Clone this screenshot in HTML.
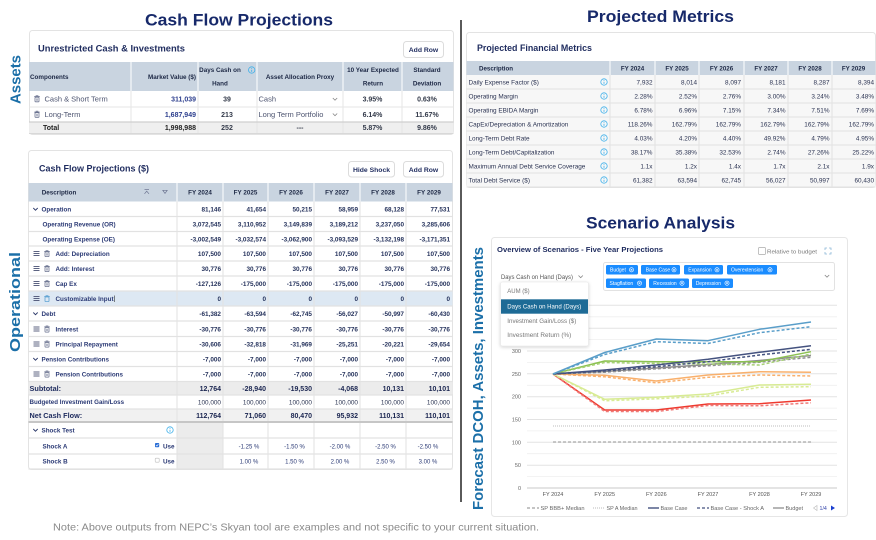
<!DOCTYPE html>
<html><head><meta charset="utf-8">
<style>
html,body{margin:0;padding:0;background:#fff;}
svg{display:block;font-family:"Liberation Sans",Arial,sans-serif;}
</style></head><body>
<svg width="876" height="540" viewBox="0 0 876 540" xmlns="http://www.w3.org/2000/svg">
<defs>
  <g id="tr"><rect x="-2" y="-1.8" width="4" height="4.6" rx="0.6" fill="none" stroke="#6b7390" stroke-width="0.8"/><line x1="-2.8" y1="-2.4" x2="2.8" y2="-2.4" stroke="#6b7390" stroke-width="0.8"/><rect x="-1" y="-3.4" width="2" height="1" fill="none" stroke="#6b7390" stroke-width="0.6"/><line x1="-0.7" y1="-0.6" x2="-0.7" y2="1.8" stroke="#6b7390" stroke-width="0.5"/><line x1="0.7" y1="-0.6" x2="0.7" y2="1.8" stroke="#6b7390" stroke-width="0.5"/></g>
  <g id="trb"><rect x="-2" y="-1.8" width="4" height="4.6" rx="0.6" fill="none" stroke="#5fa3d3" stroke-width="0.8"/><line x1="-2.8" y1="-2.4" x2="2.8" y2="-2.4" stroke="#5fa3d3" stroke-width="0.8"/><rect x="-1" y="-3.4" width="2" height="1" fill="none" stroke="#5fa3d3" stroke-width="0.6"/></g>
  <g id="hb" stroke="#4a5274" stroke-width="0.9"><line x1="-3" y1="-2" x2="3" y2="-2"/><line x1="-3" y1="0" x2="3" y2="0"/><line x1="-3" y1="2" x2="3" y2="2"/></g>
  <g id="inf"><circle r="3.2" fill="none" stroke="#3fb0ea" stroke-width="0.8"/><line x1="0" y1="-0.2" x2="0" y2="1.9" stroke="#3fb0ea" stroke-width="0.8"/><circle cy="-1.4" r="0.45" fill="#3fb0ea"/></g>
  <polyline id="chv" points="-2.2,-1 0,1.2 2.2,-1" fill="none" stroke="#2a3768" stroke-width="0.9"/>
  <polyline id="chg" points="-2.2,-1 0,1.2 2.2,-1" fill="none" stroke="#888" stroke-width="0.8"/>
  <g id="tx"><circle r="2.1" fill="none" stroke="#fff" stroke-width="0.6"/><line x1="-0.9" y1="-0.9" x2="0.9" y2="0.9" stroke="#fff" stroke-width="0.6"/><line x1="-0.9" y1="0.9" x2="0.9" y2="-0.9" stroke="#fff" stroke-width="0.6"/></g>
  <filter id="sh" x="-20%" y="-20%" width="140%" height="150%"><feDropShadow dx="0" dy="1" stdDeviation="1.5" flood-color="#000" flood-opacity="0.18"/></filter>
</defs>

<!-- Big titles -->
<g font-weight="bold" fill="#17296a" font-size="16.5">
  <text x="145" y="25.5" textLength="188" lengthAdjust="spacingAndGlyphs">Cash Flow Projections</text>
  <text x="587" y="21.8" textLength="147" lengthAdjust="spacingAndGlyphs">Projected Metrics</text>
  <text x="586" y="228.5" textLength="149" lengthAdjust="spacingAndGlyphs">Scenario Analysis</text>
</g>
<!-- Vertical labels -->
<g font-weight="bold" fill="#1b6fa8" font-size="15">
  <text transform="translate(20.7,104) rotate(-90)" textLength="49" lengthAdjust="spacingAndGlyphs">Assets</text>
  <text transform="translate(19.8,352) rotate(-90)" textLength="100" lengthAdjust="spacingAndGlyphs">Operational</text>
  <text transform="translate(483,510) rotate(-90)" textLength="263" lengthAdjust="spacingAndGlyphs">Forecast DCOH, Assets, Investments</text>
</g>
<!-- divider -->
<line x1="461" y1="20" x2="461" y2="502" stroke="#5a5a5a" stroke-width="2"/>

<!-- ============ CARD 1: Unrestricted Cash ============ -->
<rect x="29.5" y="30.5" width="424" height="104" rx="3" fill="#fff" stroke="#e3e3e3"/>
<text x="38" y="51.5" font-size="9.2" font-weight="bold" fill="#1e2b5e" textLength="147" lengthAdjust="spacingAndGlyphs">Unrestricted Cash &amp; Investments</text>
<rect x="403.5" y="41.5" width="40" height="16" rx="3" fill="#fff" stroke="#dcdcdc"/>
<text x="423.5" y="52" text-anchor="middle" font-size="6.8" font-weight="bold" fill="#1e2b5e">Add Row</text>
<rect x="29" y="62" width="424.5" height="29" fill="#c9d4e0"/>
<g stroke="#fff" stroke-width="1"><line x1="131" y1="62" x2="131" y2="91"/><line x1="198" y1="62" x2="198" y2="91"/><line x1="257" y1="62" x2="257" y2="91"/><line x1="343" y1="62" x2="343" y2="91"/><line x1="402" y1="62" x2="402" y2="91"/></g>
<g font-size="6.3" font-weight="bold" fill="#1c2744">
  <text x="30" y="79">Components</text>
  <text x="196" y="79" text-anchor="end">Market Value ($)</text>
  <text x="220" y="72.2" text-anchor="middle">Days Cash on</text>
  <text x="220" y="85.5" text-anchor="middle">Hand</text>
  <text x="300" y="79" text-anchor="middle">Asset Allocation Proxy</text>
  <text x="373" y="72.2" text-anchor="middle">10 Year Expected</text>
  <text x="373" y="85.5" text-anchor="middle">Return</text>
  <text x="427" y="72.2" text-anchor="middle">Standard</text>
  <text x="427" y="85.5" text-anchor="middle">Deviation</text>
</g>
<use href="#inf" x="251.7" y="70"/>
<rect x="29" y="122" width="424.5" height="11.5" fill="#efefef"/>
<g stroke="#e6e6e6" stroke-width="1"><line x1="29" y1="107" x2="453.5" y2="107"/><line x1="131" y1="91" x2="131" y2="134"/><line x1="198" y1="91" x2="198" y2="134"/><line x1="257" y1="91" x2="257" y2="134"/><line x1="343" y1="91" x2="343" y2="134"/><line x1="402" y1="91" x2="402" y2="134"/></g>
<line x1="29" y1="122" x2="453.5" y2="122" stroke="#cfcfcf" stroke-width="1.2"/>
<line x1="29" y1="133.5" x2="453.5" y2="133.5" stroke="#d8d8d8" stroke-width="1"/>
<use href="#tr" x="37" y="99"/><use href="#tr" x="37" y="114.5"/>
<g font-size="7.5" fill="#4d5470">
  <text x="44.5" y="101.7">Cash &amp; Short Term</text>
  <text x="44.5" y="117.2">Long-Term</text>
  <text x="258.5" y="101.7">Cash</text>
  <text x="258.5" y="117.2">Long Term Portfolio</text>
</g>
<use href="#chg" x="335" y="99"/><use href="#chg" x="335" y="114.5"/>
<g font-size="7" font-weight="bold" fill="#2d3f8e" text-anchor="end">
  <text x="196" y="101.5">311,039</text>
  <text x="196" y="117">1,687,949</text>
</g>
<g font-size="7" font-weight="bold" fill="#333a4a" text-anchor="middle">
  <text x="227" y="101.5">39</text><text x="372.5" y="101.5">3.95%</text><text x="427" y="101.5">0.63%</text>
  <text x="227" y="117">213</text><text x="372.5" y="117">6.14%</text><text x="427" y="117">11.67%</text>
  <text x="227" y="130.2">252</text><text x="300" y="130.2">---</text><text x="372.5" y="130.2">5.87%</text><text x="427" y="130.2">9.86%</text>
</g>
<text x="43" y="130.2" font-size="7" font-weight="bold" fill="#222">Total</text>
<text x="196" y="130.2" text-anchor="end" font-size="7" font-weight="bold" fill="#222">1,998,988</text>

<!-- ============ CARD 2: Cash Flow Projections ============ -->
<rect x="28.5" y="150.5" width="424" height="319" rx="3" fill="#fff" stroke="#e3e3e3"/>
<text x="39" y="171.3" font-size="9" font-weight="bold" fill="#1e2b5e" textLength="110" lengthAdjust="spacingAndGlyphs">Cash Flow Projections ($)</text>
<rect x="348.5" y="161.5" width="46" height="15.5" rx="3" fill="#fff" stroke="#dcdcdc"/>
<text x="371.5" y="171.8" text-anchor="middle" font-size="6.8" font-weight="bold" fill="#1e2b5e">Hide Shock</text>
<rect x="403.5" y="161.5" width="40" height="15.5" rx="3" fill="#fff" stroke="#dcdcdc"/>
<text x="423.5" y="171.8" text-anchor="middle" font-size="6.8" font-weight="bold" fill="#1e2b5e">Add Row</text>

<rect x="28.5" y="183" width="424" height="18.5" fill="#c9d4e0"/>
<g stroke="#fff"><line x1="177" y1="183" x2="177" y2="201.5"/><line x1="223" y1="183" x2="223" y2="201.5"/><line x1="268" y1="183" x2="268" y2="201.5"/><line x1="314" y1="183" x2="314" y2="201.5"/><line x1="360" y1="183" x2="360" y2="201.5"/><line x1="406" y1="183" x2="406" y2="201.5"/></g>
<g font-size="6.3" font-weight="bold" fill="#1c2744">
  <text x="41.7" y="194.3">Description</text>
  <g text-anchor="middle"><text x="200" y="194.3">FY 2024</text><text x="245.5" y="194.3">FY 2025</text><text x="291" y="194.3">FY 2026</text><text x="337" y="194.3">FY 2027</text><text x="383" y="194.3">FY 2028</text><text x="429" y="194.3">FY 2029</text></g>
</g>
<g stroke="#6b7390" stroke-width="0.7" fill="none"><line x1="144.5" y1="189.6" x2="149" y2="189.6"/><polyline points="144.5,193.8 146.7,191.2 149,193.8"/><polygon points="162.8,190.3 167.2,190.3 165,193.4"/></g>

<!-- row backgrounds -->
<rect x="28.5" y="291" width="424" height="15" fill="#dde8f3"/>
<rect x="28.5" y="381.5" width="424" height="13.5" fill="#ececec"/>
<rect x="28.5" y="409" width="424" height="13" fill="#f1f1f1"/>
<rect x="177" y="422.5" width="46" height="46.5" fill="#ececec"/>
<g stroke="#e2e2e2" stroke-width="1.2">
  <line x1="28.5" y1="216.5" x2="452.5" y2="216.5"/><line x1="28.5" y1="231.5" x2="452.5" y2="231.5"/><line x1="28.5" y1="246" x2="452.5" y2="246"/><line x1="28.5" y1="261" x2="452.5" y2="261"/><line x1="28.5" y1="276" x2="452.5" y2="276"/><line x1="28.5" y1="291" x2="452.5" y2="291"/><line x1="28.5" y1="306" x2="452.5" y2="306"/><line x1="28.5" y1="321" x2="452.5" y2="321"/><line x1="28.5" y1="336.5" x2="452.5" y2="336.5"/><line x1="28.5" y1="351.5" x2="452.5" y2="351.5"/><line x1="28.5" y1="366.5" x2="452.5" y2="366.5"/><line x1="28.5" y1="381.5" x2="452.5" y2="381.5"/><line x1="28.5" y1="395" x2="452.5" y2="395"/><line x1="28.5" y1="409" x2="452.5" y2="409"/><line x1="28.5" y1="438" x2="452.5" y2="438"/><line x1="28.5" y1="454" x2="452.5" y2="454"/><line x1="28.5" y1="469" x2="452.5" y2="469"/>
</g>
<g stroke="#e2e2e2" stroke-width="1"><line x1="177" y1="201.5" x2="177" y2="469"/><line x1="223" y1="201.5" x2="223" y2="469"/><line x1="268" y1="201.5" x2="268" y2="469"/><line x1="314" y1="201.5" x2="314" y2="469"/><line x1="360" y1="201.5" x2="360" y2="469"/><line x1="406" y1="201.5" x2="406" y2="469"/></g>
<line x1="28.5" y1="422" x2="452.5" y2="422" stroke="#c6c6c6" stroke-width="2"/>

<!-- icons -->
<use href="#chv" x="35.5" y="209"/><use href="#chv" x="35.5" y="313.5"/><use href="#chv" x="35.5" y="359"/><use href="#chv" x="35.5" y="430"/>
<use href="#hb" x="36.5" y="253.5"/><use href="#tr" x="47" y="253.8"/>
<use href="#hb" x="36.5" y="268.5"/><use href="#tr" x="47" y="268.8"/>
<use href="#hb" x="36.5" y="283.5"/><use href="#tr" x="47" y="283.8"/>
<use href="#hb" x="36.5" y="298.5"/><use href="#trb" x="47" y="298.8"/>
<use href="#hb" x="36.5" y="329"/><use href="#tr" x="47" y="329.3"/>
<use href="#hb" x="36.5" y="344"/><use href="#tr" x="47" y="344.3"/>
<use href="#hb" x="36.5" y="374"/><use href="#tr" x="47" y="374.3"/>
<use href="#inf" x="170" y="430"/>
<rect x="155" y="443" width="4.2" height="4.2" rx="0.8" fill="#2b6fd6"/><polyline points="155.9,445.1 156.9,446 158.3,444.2" fill="none" stroke="#fff" stroke-width="0.6"/>
<rect x="155.2" y="458.2" width="4" height="4" rx="0.8" fill="#fff" stroke="#bbb" stroke-width="0.6"/>
<line x1="114.5" y1="295.5" x2="114.5" y2="302" stroke="#333" stroke-width="0.6"/>

<!-- labels -->
<g font-size="6.3" font-weight="bold" fill="#2b3a75">
  <text x="41.5" y="211.3">Operation</text>
  <text x="42.5" y="226.3">Operating Revenue (OR)</text>
  <text x="42.5" y="241.3">Operating Expense (OE)</text>
  <text x="55.5" y="255.8">Add: Depreciation</text>
  <text x="55.5" y="270.8">Add: Interest</text>
  <text x="55.5" y="285.8">Cap Ex</text>
  <text x="55.5" y="300.8">Customizable Input</text>
  <text x="41.5" y="315.8">Debt</text>
  <text x="55.5" y="331.3">Interest</text>
  <text x="55.5" y="346.3">Principal Repayment</text>
  <text x="41.5" y="361.3">Pension Contributions</text>
  <text x="55.5" y="376.3">Pension Contributions</text>
  <text x="29.5" y="404.2" font-size="6.2">Budgeted Investment Gain/Loss</text>
  <text x="41.5" y="432.3">Shock Test</text>
  <text x="42.5" y="448.3">Shock A</text>
  <text x="42.5" y="463.3">Shock B</text>
  <text x="163" y="448.3">Use</text>
  <text x="163" y="463.3">Use</text>
</g>
<g font-size="7.3" font-weight="bold" fill="#1e2b5e">
  <text x="29.5" y="390.9">Subtotal:</text>
  <text x="29.5" y="418.1">Net Cash Flow:</text>
</g>

<!-- values -->
<g font-size="6.4" font-weight="bold" fill="#25325c" text-anchor="end">
  <text x="221" y="211.3">81,146</text><text x="266" y="211.3">41,654</text><text x="312" y="211.3">50,215</text><text x="358" y="211.3">58,959</text><text x="404" y="211.3">68,128</text><text x="450" y="211.3">77,531</text>
  <text x="221" y="226.3">3,072,545</text><text x="266" y="226.3">3,110,952</text><text x="312" y="226.3">3,149,839</text><text x="358" y="226.3">3,189,212</text><text x="404" y="226.3">3,237,050</text><text x="450" y="226.3">3,285,606</text>
  <text x="221" y="241.3">-3,002,549</text><text x="266" y="241.3">-3,032,574</text><text x="312" y="241.3">-3,062,900</text><text x="358" y="241.3">-3,093,529</text><text x="404" y="241.3">-3,132,198</text><text x="450" y="241.3">-3,171,351</text>
  <text x="221" y="255.8">107,500</text><text x="266" y="255.8">107,500</text><text x="312" y="255.8">107,500</text><text x="358" y="255.8">107,500</text><text x="404" y="255.8">107,500</text><text x="450" y="255.8">107,500</text>
  <text x="221" y="270.8">30,776</text><text x="266" y="270.8">30,776</text><text x="312" y="270.8">30,776</text><text x="358" y="270.8">30,776</text><text x="404" y="270.8">30,776</text><text x="450" y="270.8">30,776</text>
  <text x="221" y="285.8">-127,126</text><text x="266" y="285.8">-175,000</text><text x="312" y="285.8">-175,000</text><text x="358" y="285.8">-175,000</text><text x="404" y="285.8">-175,000</text><text x="450" y="285.8">-175,000</text>
  <text x="221" y="300.8">0</text><text x="266" y="300.8">0</text><text x="312" y="300.8">0</text><text x="358" y="300.8">0</text><text x="404" y="300.8">0</text><text x="450" y="300.8">0</text>
  <text x="221" y="315.8">-61,382</text><text x="266" y="315.8">-63,594</text><text x="312" y="315.8">-62,745</text><text x="358" y="315.8">-56,027</text><text x="404" y="315.8">-50,997</text><text x="450" y="315.8">-60,430</text>
  <text x="221" y="331.3">-30,776</text><text x="266" y="331.3">-30,776</text><text x="312" y="331.3">-30,776</text><text x="358" y="331.3">-30,776</text><text x="404" y="331.3">-30,776</text><text x="450" y="331.3">-30,776</text>
  <text x="221" y="346.3">-30,606</text><text x="266" y="346.3">-32,818</text><text x="312" y="346.3">-31,969</text><text x="358" y="346.3">-25,251</text><text x="404" y="346.3">-20,221</text><text x="450" y="346.3">-29,654</text>
  <text x="221" y="361.3">-7,000</text><text x="266" y="361.3">-7,000</text><text x="312" y="361.3">-7,000</text><text x="358" y="361.3">-7,000</text><text x="404" y="361.3">-7,000</text><text x="450" y="361.3">-7,000</text>
  <text x="221" y="376.3">-7,000</text><text x="266" y="376.3">-7,000</text><text x="312" y="376.3">-7,000</text><text x="358" y="376.3">-7,000</text><text x="404" y="376.3">-7,000</text><text x="450" y="376.3">-7,000</text>
</g>
<g font-size="7" font-weight="bold" fill="#1a2550" text-anchor="end">
  <text x="221" y="390.8">12,764</text><text x="266" y="390.8">-28,940</text><text x="312" y="390.8">-19,530</text><text x="358" y="390.8">-4,068</text><text x="404" y="390.8">10,131</text><text x="450" y="390.8">10,101</text>
  <text x="221" y="418">112,764</text><text x="266" y="418">71,060</text><text x="312" y="418">80,470</text><text x="358" y="418">95,932</text><text x="404" y="418">110,131</text><text x="450" y="418">110,101</text>
</g>
<g font-size="6.4" fill="#2b3452" text-anchor="end">
  <text x="221" y="404.3">100,000</text><text x="266" y="404.3">100,000</text><text x="312" y="404.3">100,000</text><text x="358" y="404.3">100,000</text><text x="404" y="404.3">100,000</text><text x="450" y="404.3">100,000</text>
</g>
<g font-size="6" fill="#2b3a75" text-anchor="middle">
  <text x="249" y="448.3">-1.25 %</text><text x="294.5" y="448.3">-1.50 %</text><text x="340" y="448.3">-2.00 %</text><text x="385.5" y="448.3">-2.50 %</text><text x="428" y="448.3">-2.50 %</text>
  <text x="249" y="463.3">1.00 %</text><text x="294.5" y="463.3">1.50 %</text><text x="340" y="463.3">2.00 %</text><text x="385.5" y="463.3">2.50 %</text><text x="428" y="463.3">3.00 %</text>
</g>

<!-- note -->
<text x="53" y="530.5" font-size="10.5" fill="#8a8a8a" textLength="486" lengthAdjust="spacingAndGlyphs">Note: Above outputs from NEPC’s Skyan tool are examples and not specific to your current situation.</text>

<!-- ============ PROJECTED FINANCIAL METRICS ============ -->
<rect x="466.5" y="32.5" width="409" height="155" rx="3" fill="#fff" stroke="#e3e3e3"/>
<text x="477" y="50.8" font-size="8.9" font-weight="bold" fill="#1e2b5e" textLength="115" lengthAdjust="spacingAndGlyphs">Projected Financial Metrics</text>
<rect x="466.5" y="61" width="409" height="14" fill="#c9d4e0"/>
<rect x="466.5" y="75" width="409" height="112" fill="#f7f7f7"/>
<g stroke="#fff"><line x1="610" y1="61" x2="610" y2="75"/><line x1="655" y1="61" x2="655" y2="75"/><line x1="699" y1="61" x2="699" y2="75"/><line x1="744" y1="61" x2="744" y2="75"/><line x1="788" y1="61" x2="788" y2="75"/><line x1="832" y1="61" x2="832" y2="75"/></g>
<g stroke="#e2e2e2"><line x1="466.5" y1="89" x2="875.5" y2="89"/><line x1="466.5" y1="103" x2="875.5" y2="103"/><line x1="466.5" y1="117" x2="875.5" y2="117"/><line x1="466.5" y1="131" x2="875.5" y2="131"/><line x1="466.5" y1="145" x2="875.5" y2="145"/><line x1="466.5" y1="159" x2="875.5" y2="159"/><line x1="466.5" y1="173" x2="875.5" y2="173"/><line x1="466.5" y1="187" x2="875.5" y2="187"/>
<line x1="610" y1="75" x2="610" y2="187"/><line x1="655" y1="75" x2="655" y2="187"/><line x1="699" y1="75" x2="699" y2="187"/><line x1="744" y1="75" x2="744" y2="187"/><line x1="788" y1="75" x2="788" y2="187"/><line x1="832" y1="75" x2="832" y2="187"/></g>
<g font-size="6.2" font-weight="bold" fill="#1c2744">
  <text x="479" y="70.3">Description</text>
  <g text-anchor="middle"><text x="632.5" y="70.3">FY 2024</text><text x="677" y="70.3">FY 2025</text><text x="721.5" y="70.3">FY 2026</text><text x="766" y="70.3">FY 2027</text><text x="810" y="70.3">FY 2028</text><text x="853.5" y="70.3">FY 2029</text></g>
</g>
<use href="#inf" x="604" y="82"/><use href="#inf" x="604" y="96"/><use href="#inf" x="604" y="110"/><use href="#inf" x="604" y="124"/><use href="#inf" x="604" y="138"/><use href="#inf" x="604" y="152"/><use href="#inf" x="604" y="166"/><use href="#inf" x="604" y="180"/>
<g font-size="6.4" fill="#2b3352">
  <text x="468.5" y="84.3">Daily Expense Factor ($)</text>
  <text x="468.5" y="98.3">Operating Margin</text>
  <text x="468.5" y="112.3">Operating EBIDA Margin</text>
  <text x="468.5" y="126.3">CapEx/Depreciation &amp; Amortization</text>
  <text x="468.5" y="140.3">Long-Term Debt Rate</text>
  <text x="468.5" y="154.3">Long-Term Debt/Capitalization</text>
  <text x="468.5" y="168.3">Maximum Annual Debt Service Coverage</text>
  <text x="468.5" y="182.3">Total Debt Service ($)</text>
  <g text-anchor="end">
  <text x="652.5" y="84.3">7,932</text><text x="697" y="84.3">8,014</text><text x="741" y="84.3">8,097</text><text x="785.5" y="84.3">8,181</text><text x="829.5" y="84.3">8,287</text><text x="874" y="84.3">8,394</text>
  <text x="652.5" y="98.3">2.28%</text><text x="697" y="98.3">2.52%</text><text x="741" y="98.3">2.76%</text><text x="785.5" y="98.3">3.00%</text><text x="829.5" y="98.3">3.24%</text><text x="874" y="98.3">3.48%</text>
  <text x="652.5" y="112.3">6.78%</text><text x="697" y="112.3">6.96%</text><text x="741" y="112.3">7.15%</text><text x="785.5" y="112.3">7.34%</text><text x="829.5" y="112.3">7.51%</text><text x="874" y="112.3">7.69%</text>
  <text x="652.5" y="126.3">118.26%</text><text x="697" y="126.3">162.79%</text><text x="741" y="126.3">162.79%</text><text x="785.5" y="126.3">162.79%</text><text x="829.5" y="126.3">162.79%</text><text x="874" y="126.3">162.79%</text>
  <text x="652.5" y="140.3">4.03%</text><text x="697" y="140.3">4.20%</text><text x="741" y="140.3">4.40%</text><text x="785.5" y="140.3">49.92%</text><text x="829.5" y="140.3">4.79%</text><text x="874" y="140.3">4.95%</text>
  <text x="652.5" y="154.3">38.17%</text><text x="697" y="154.3">35.38%</text><text x="741" y="154.3">32.53%</text><text x="785.5" y="154.3">2.74%</text><text x="829.5" y="154.3">27.26%</text><text x="874" y="154.3">25.22%</text>
  <text x="652.5" y="168.3">1.1x</text><text x="697" y="168.3">1.2x</text><text x="741" y="168.3">1.4x</text><text x="785.5" y="168.3">1.7x</text><text x="829.5" y="168.3">2.1x</text><text x="874" y="168.3">1.9x</text>
  <text x="652.5" y="182.3">61,382</text><text x="697" y="182.3">63,594</text><text x="741" y="182.3">62,745</text><text x="785.5" y="182.3">56,027</text><text x="829.5" y="182.3">50,997</text><text x="874" y="182.3">60,430</text>
  </g>
</g>

<!-- ============ SCENARIO CHART CARD ============ -->
<rect x="491.5" y="237.5" width="356" height="279" rx="3" fill="#fff" stroke="#e6e6e6"/>
<text x="497" y="251.8" font-size="7.6" font-weight="bold" fill="#1e2b5e" textLength="166" lengthAdjust="spacingAndGlyphs">Overview of Scenarios - Five Year Projections</text>
<rect x="758.5" y="247.5" width="7" height="7" rx="1" fill="#fff" stroke="#aaa" stroke-width="0.7"/>
<text x="767" y="253.5" font-size="5.8" fill="#777" textLength="50" lengthAdjust="spacingAndGlyphs">Relative to budget</text>
<g stroke="#8cb8d8" stroke-width="0.8" fill="none"><polyline points="825,250 825,248 827,248"/><polyline points="829,248 831,248 831,250"/><polyline points="831,252 831,254 829,254"/><polyline points="827,254 825,254 825,252"/></g>

<!-- gridlines -->
<g stroke="#efefef" stroke-width="0.8">
  <line x1="527" y1="476.6" x2="837" y2="476.6"/><line x1="527" y1="453.7" x2="837" y2="453.7"/><line x1="527" y1="430.9" x2="837" y2="430.9"/><line x1="527" y1="408.1" x2="837" y2="408.1"/><line x1="527" y1="385.3" x2="837" y2="385.3"/><line x1="527" y1="362.4" x2="837" y2="362.4"/><line x1="527" y1="339.6" x2="837" y2="339.6"/><line x1="527" y1="316.8" x2="837" y2="316.8"/>
</g>
<g stroke="#e3e3e3" stroke-width="1">
  <line x1="527" y1="465.2" x2="837" y2="465.2"/><line x1="527" y1="442.3" x2="837" y2="442.3"/><line x1="527" y1="419.5" x2="837" y2="419.5"/><line x1="527" y1="396.7" x2="837" y2="396.7"/><line x1="527" y1="373.8" x2="837" y2="373.8"/><line x1="527" y1="351" x2="837" y2="351"/><line x1="527" y1="328.2" x2="837" y2="328.2"/><line x1="527" y1="305.3" x2="837" y2="305.3"/>
</g>
<line x1="527" y1="488" x2="837" y2="488" stroke="#c8c8c8" stroke-width="1"/>
<g font-size="5.5" fill="#666" text-anchor="end">
  <text x="521" y="490">0</text><text x="521" y="467.2">50</text><text x="521" y="444.3">100</text><text x="521" y="421.5">150</text><text x="521" y="398.7">200</text><text x="521" y="375.8">250</text><text x="521" y="353">300</text><text x="521" y="330.2">350</text><text x="521" y="307.3">400</text>
</g>
<g font-size="5.5" fill="#555" text-anchor="middle">
  <text x="553" y="496">FY 2024</text><text x="604.7" y="496">FY 2025</text><text x="656.3" y="496">FY 2026</text><text x="708" y="496">FY 2027</text><text x="759.5" y="496">FY 2028</text><text x="811" y="496">FY 2029</text>
</g>

<!-- series -->
<line x1="553" y1="442" x2="811" y2="442" stroke="#a8a8a8" stroke-width="1.2" stroke-dasharray="3,2"/>
<line x1="553" y1="426" x2="811" y2="426" stroke="#bdbdbd" stroke-width="1" stroke-dasharray="1,1"/>
<g fill="none" stroke-width="1.5" stroke-linejoin="round">
  <polyline points="553,374 604.7,410 656.3,410 708,404 759.5,403.7 811,400" stroke="#ee3a2f"/>
  <polyline points="553,374 604.7,411.5 656.3,411.5 708,405.5 759.5,405.8 811,402.8" stroke="#f07a78" stroke-dasharray="3,2"/>
  <polyline points="553,374 604.7,399.3 656.3,397.3 708,394 759.5,385 811,384.3" stroke="#d8eb94"/>
  <polyline points="553,374 604.7,400.8 656.3,398.8 708,396 759.5,387.3 811,386.7" stroke="#d8eb94" stroke-dasharray="3,2"/>
  <polyline points="553,374 604.7,375.3 656.3,381 708,375 759.5,371.7 811,372.3" stroke="#f9b06c"/>
  <polyline points="553,374 604.7,376.8 656.3,382.8 708,377.3 759.5,375 811,376" stroke="#f9b06c" stroke-dasharray="3,2"/>
  <polyline points="553,374 604.7,371.5 656.3,368 708,364.5 759.5,360.5 811,355.5" stroke="#8e8e8e"/>
  <polyline points="553,374 604.7,372.2 656.3,368.8 708,365.8 759.5,362.2 811,357.3" stroke="#8e8e8e" stroke-dasharray="3,2"/>
  <polyline points="553,374 604.7,361 656.3,361.7 708,361.7 759.5,361.7 811,351.7" stroke="#8cc152"/>
  <polyline points="553,374 604.7,362.5 656.3,363.5 708,364 759.5,365 811,354" stroke="#a6d174" stroke-dasharray="3,2"/>
  <polyline points="553,374 604.7,370 656.3,365 708,359.3 759.5,352.3 811,345.7" stroke="#44527f"/>
  <polyline points="553,374 604.7,371 656.3,366.7 708,361.7 759.5,355 811,349.3" stroke="#44527f" stroke-dasharray="3,2"/>
  <polyline points="553,374 604.7,352.5 656.3,339 708,340.7 759.5,329.3 811,322" stroke="#5a9ec9"/>
  <polyline points="553,374 604.7,354.5 656.3,341.7 708,343.5 759.5,332.7 811,326.7" stroke="#5a9ec9" stroke-dasharray="3,2"/>
</g>

<!-- legend -->
<line x1="527" y1="508" x2="539" y2="508" stroke="#a0a0a0" stroke-width="1.2" stroke-dasharray="3,2"/>
<line x1="593" y1="508" x2="605" y2="508" stroke="#bbb" stroke-width="1" stroke-dasharray="1,1"/>
<line x1="648" y1="508" x2="659" y2="508" stroke="#44527f" stroke-width="1.4"/>
<line x1="697" y1="508" x2="709" y2="508" stroke="#44527f" stroke-width="1.3" stroke-dasharray="3,2"/>
<line x1="773" y1="508" x2="784" y2="508" stroke="#8e8e8e" stroke-width="1.3"/>
<g font-size="5.5" fill="#666">
  <text x="540.5" y="510" textLength="44" lengthAdjust="spacingAndGlyphs">SP BBB+ Median</text>
  <text x="606.5" y="510" textLength="31" lengthAdjust="spacingAndGlyphs">SP A Median</text>
  <text x="660.5" y="510" textLength="27" lengthAdjust="spacingAndGlyphs">Base Case</text>
  <text x="710.5" y="510" textLength="53.5" lengthAdjust="spacingAndGlyphs">Base Case - Shock A</text>
  <text x="785.5" y="510" textLength="17.5" lengthAdjust="spacingAndGlyphs">Budget</text>
</g>
<polygon points="817,505.5 817,510.5 813.5,508" fill="none" stroke="#bbb" stroke-width="0.6"/>
<text x="819.5" y="510" font-size="5.3" fill="#3344aa">1/4</text>
<polygon points="831,505.5 831,510.5 835,508" fill="#1a3fd0"/>

<!-- select & tags -->
<text x="501" y="278.8" font-size="6.3" fill="#555" textLength="72" lengthAdjust="spacingAndGlyphs">Days Cash on Hand (Days)</text>
<use href="#chg" x="580.7" y="276.5"/>
<rect x="603.5" y="262.5" width="231" height="28" rx="2" fill="#fff" stroke="#e2e2e2"/>
<use href="#chg" x="827" y="276"/>
<g fill="#1a8cff">
  <rect x="606" y="265" width="32" height="9.5" rx="1.5"/><rect x="641" y="265" width="39" height="9.5" rx="1.5"/><rect x="684" y="265" width="39" height="9.5" rx="1.5"/><rect x="727" y="265" width="50" height="9.5" rx="1.5"/>
  <rect x="606" y="278.5" width="40" height="9.5" rx="1.5"/><rect x="649" y="278.5" width="40" height="9.5" rx="1.5"/><rect x="692" y="278.5" width="41" height="9.5" rx="1.5"/>
</g>
<g font-size="5" fill="#fff">
  <text x="610" y="271.6">Budget</text><text x="645.7" y="271.6">Base Case</text><text x="688.3" y="271.6">Expansion</text><text x="731" y="271.6">Overextension</text>
  <text x="609.5" y="285.1">Stagflation</text><text x="653.3" y="285.1">Recession</text><text x="695.7" y="285.1">Depression</text>
</g>
<use href="#tx" x="631.5" y="269.8"/><use href="#tx" x="674" y="269.8"/><use href="#tx" x="717" y="269.8"/><use href="#tx" x="770" y="269.8"/>
<use href="#tx" x="639.5" y="283.2"/><use href="#tx" x="682" y="283.2"/><use href="#tx" x="727" y="283.2"/>

<!-- dropdown menu -->
<rect x="500.5" y="282" width="88" height="64" rx="2" fill="#fff" stroke="#e4e4e4" stroke-width="0.6" filter="url(#sh)"/>
<rect x="501" y="299.3" width="87" height="14.4" fill="#1e6b96"/>
<g font-size="6" fill="#777">
  <text x="507.3" y="293.2">AUM ($)</text>
  <text x="507.3" y="323.2" textLength="69" lengthAdjust="spacingAndGlyphs">Investment Gain/Loss ($)</text>
  <text x="507.3" y="337.2" textLength="64" lengthAdjust="spacingAndGlyphs">Investment Return (%)</text>
</g>
<text x="507.3" y="308.7" font-size="6" fill="#fff" textLength="74" lengthAdjust="spacingAndGlyphs">Days Cash on Hand (Days)</text>
</svg>
</body></html>
